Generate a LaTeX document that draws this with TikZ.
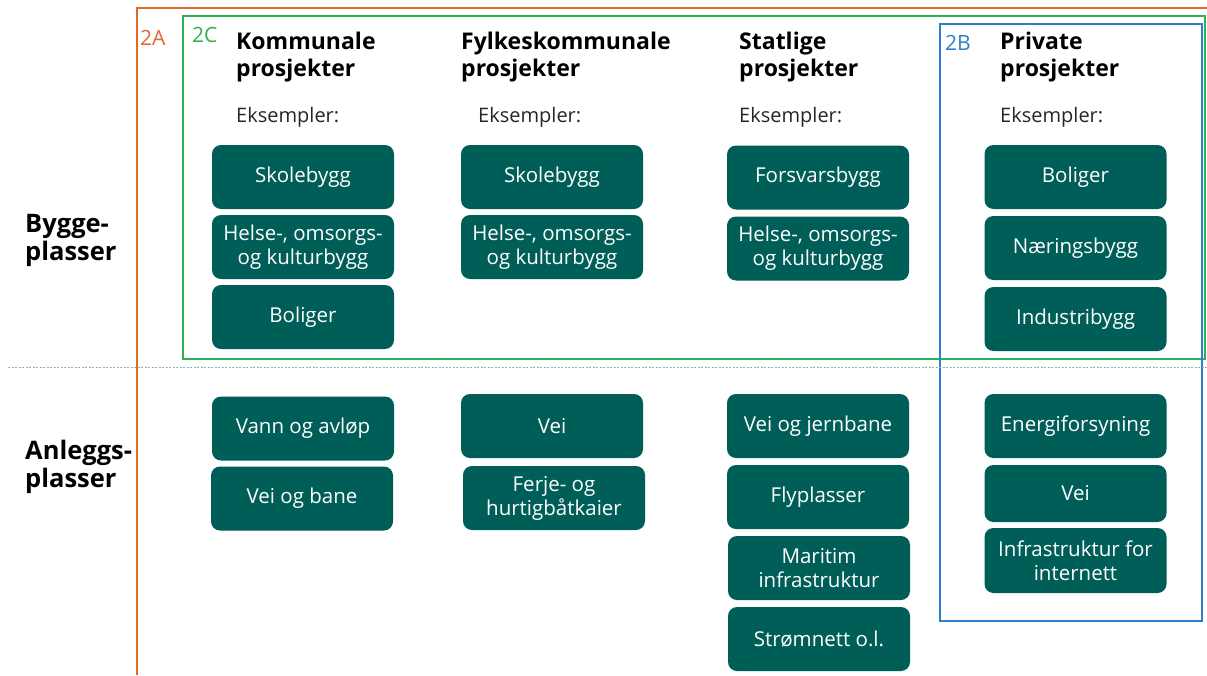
\documentclass[tikz,border=0pt]{standalone}
\usepackage{fontspec}
\setmainfont{Open Sans}
\usepackage{xcolor}
\usepackage{tikz}

\definecolor{teal}{HTML}{005E59}
\definecolor{rammeA}{HTML}{E2692B}
\definecolor{rammeC}{HTML}{2DB24F}
\definecolor{rammeB}{HTML}{2E7FC9}
\definecolor{skille}{HTML}{8DB3B1}

\begin{document}
\begin{tikzpicture}[x=1pt, y=-1pt,
    boks/.style={fill=teal, text=white, rounded corners=9pt, minimum width=182pt, minimum height=64pt,
        inner sep=2pt, align=center, font=\fontsize{20.5}{24}\selectfont},
    overskrift/.style={anchor=base west, inner sep=0pt, align=left, font=\fontsize{23}{27}\selectfont\bfseries},
    eks/.style={anchor=base west, inner sep=0pt, font=\fontsize{20}{24}\selectfont, text=black!85},
    side/.style={anchor=base west, inner sep=0pt, align=left, font=\fontsize{25.5}{28}\selectfont\bfseries},
    merke/.style={anchor=base west, inner sep=0pt, font=\fontsize{21}{24}\selectfont}]
    \useasboundingbox (0,0) rectangle (1207,675);

    % rammer
    \draw[rammeA, line width=2pt] (137,675) -- (137,8) -- (1207,8);
    \draw[rammeC, line width=2pt] (183,16) rectangle (1205,359);
    \draw[rammeB, line width=2pt] (940,24) rectangle (1202,621);
    \draw[skille, line width=1pt, dash pattern=on 2pt off 1.5pt] (8,367) -- (1207,367);

    \node[merke, text=rammeA] (lA) at (140,45) {2A};
    \node[merke, text=rammeC] (lC) at (192,42) {2C};
    \node[merke, text=rammeB] (lB) at (945,50) {2B};

    % venstre side (base = siste linje)
    \node[side] (bygg) at (25,260) {Bygge-\\plasser};
    \node[side] (anlegg) at (25,487) {Anleggs-\\plasser};

    % overskrifter
    \node[overskrift] (hk) at (236,76.5) {Kommunale\\prosjekter};
    \node[overskrift] (hf) at (461,76.5) {Fylkeskommunale\\prosjekter};
    \node[overskrift] (hs) at (739,76.5) {Statlige\\prosjekter};
    \node[overskrift] (hp) at (1000,76.5) {Private\\prosjekter};

    \node[eks] (ek) at (236,122) {Eksempler:};
    \node[eks] (ef) at (478,122) {Eksempler:};
    \node[eks] (es) at (739,122) {Eksempler:};
    \node[eks] (ep) at (1000,122) {Eksempler:};

    % kommunale
    \node[boks] (k1) at (303,177) {Skolebygg};
    \node[boks] (k2) at (303,247) {Helse-, omsorgs-\\og kulturbygg};
    \node[boks] (k3) at (303,317) {Boliger};
    \node[boks] (k4) at (303,428.5) {Vann og avløp};
    \node[boks] (k5) at (302,498.5) {Vei og bane};

    % fylkeskommunale
    \node[boks] (f1) at (552,177) {Skolebygg};
    \node[boks] (f2) at (552,247) {Helse-, omsorgs-\\og kulturbygg};
    \node[boks] (f3) at (552,426) {Vei};
    \node[boks] (f4) at (554,498) {Ferje- og\\hurtigbåtkaier};

    % statlige
    \node[boks] (s1) at (818,177.5) {Forsvarsbygg};
    \node[boks] (s2) at (818,248.5) {Helse-, omsorgs-\\og kulturbygg};
    \node[boks] (s3) at (818,426) {Vei og jernbane};
    \node[boks] (s4) at (818,497) {Flyplasser};
    \node[boks] (s5) at (819,568) {Maritim\\infrastruktur};
    \node[boks] (s6) at (819,639) {Strømnett o.l.};

    % private
    \node[boks] (p1) at (1075.5,177) {Boliger};
    \node[boks] (p2) at (1075.5,248) {Næringsbygg};
    \node[boks] (p3) at (1075.5,319) {Industribygg};
    \node[boks] (p4) at (1075.5,426) {Energiforsyning};
    \node[boks, minimum height=57pt] (p5) at (1075.5,493.5) {Vei};
    \node[boks, minimum height=65pt] (p6) at (1075.5,560.5) {Infrastruktur for\\internett};
\end{tikzpicture}
\end{document}
